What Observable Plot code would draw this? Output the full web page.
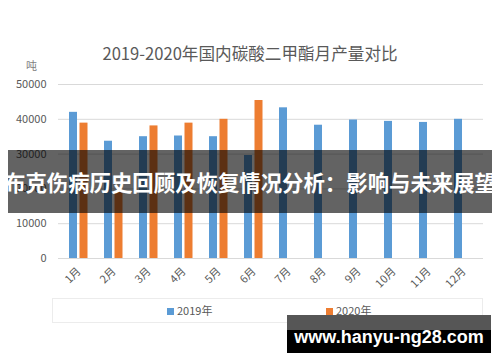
<!DOCTYPE html>
<html><head><meta charset="utf-8">
<script src="https://cdn.jsdelivr.net/npm/d3@7"></script>
<script src="https://cdn.jsdelivr.net/npm/@observablehq/plot@0.6"></script>
<style>
body{margin:0;background:#fff;font-family:"Noto Sans CJK SC","Noto Sans",sans-serif;}
#wrap{position:relative;width:500px;height:362px;overflow:hidden;}
#title{position:absolute;left:0;width:500px;top:40px;text-align:center;font-size:16.6px;color:#595959;line-height:26px;}
#unit{position:absolute;left:26px;top:57px;font-size:11px;color:#7f7f7f;}
#chart{position:absolute;left:0;top:0;}
#legend{position:absolute;left:52px;top:298px;width:429px;height:23px;border:1px solid #ececec;font-size:11px;color:#595959;}
.li{position:absolute;top:4px;line-height:14px;}
.sw{display:inline-block;width:7px;height:7px;margin-right:3px;vertical-align:0px;}
#band{position:absolute;left:8px;top:150px;width:484px;height:63px;background:rgba(0,0,0,0.61);}
#bandtext{position:absolute;left:0;top:150px;width:500px;height:63px;color:#fff;font-weight:bold;font-size:21.4px;text-align:center;line-height:63px;white-space:nowrap;}
#wm{position:absolute;left:287px;top:315px;width:204px;height:38px;background:linear-gradient(#565656 0,#565656 15px,#000 15px);}
#wmtext{position:absolute;left:287px;top:315px;width:204px;height:38px;color:#fff;font-weight:bold;font-size:18px;font-family:"Liberation Sans","Arial",sans-serif;text-align:center;line-height:44px;white-space:nowrap;}
</style></head>
<body><div id="wrap">
<div id="chart"></div>
<div id="title">2019-2020年国内碳酸二甲酯月产量对比</div>
<div id="unit">吨</div>
<div id="legend"></div>
<div id="band"></div>
<div id="bandtext">布克伤病历史回顾及恢复情况分析：影响与未来展望</div>
<div id="wm"></div>
<div id="wmtext">www.hanyu-ng28.com</div>
</div>
<script>
const months = ["1月","2月","3月","4月","5月","6月","7月","8月","9月","10月","11月","12月"];
const values2019 = [42000,33700,35000,35200,35000,29600,43300,38300,39800,39400,39100,40000];
const values2020 = [38900,19000,38100,38900,40000,45400];
const seriesNames = ["2019年","2020年"];
const colors = ["#5B9BD5","#ED7D31"];
const yTicks = [0,10000,20000,30000,40000,50000];

const d19 = months.map((m,i)=>({month:m, value:values2019[i]}));
const d20 = values2020.map((v,i)=>({month:months[i], value:v}));

const plot = Plot.plot({
  width:500, height:300,
  marginLeft:58, marginRight:17, marginTop:84, marginBottom:42,
  style:{fontFamily:'"Noto Sans CJK SC","Noto Sans",sans-serif', fontSize:"11px", color:"#595959", background:"transparent"},
  x:{domain:months, padding:0, label:null, tickSize:0, tickRotate:-45, tickPadding:11},
  y:{domain:[0,50000], label:null, ticks:yTicks, tickFormat:d=>String(d), tickSize:0, tickPadding:12},
  marks:[
    Plot.ruleY(yTicks,{stroke:"#d9d9d9", strokeWidth:1}),
    Plot.barY(d19,{x:"month", y:"value", fill:colors[0], insetLeft:8, insetRight:19}),
    Plot.barY(d20,{x:"month", y:"value", fill:colors[1], insetLeft:18.5, insetRight:8.5})
  ]
});
document.getElementById("chart").appendChild(plot);

const lg = document.getElementById("legend");
const lx = [114, 273];
seriesNames.forEach((n,i)=>{
  const d = document.createElement("div");
  d.className="li"; d.style.left = lx[i]+"px";
  d.innerHTML = `<span class="sw" style="background:${colors[i]}"></span>${n}`;
  lg.appendChild(d);
});
</script>
</body></html>
